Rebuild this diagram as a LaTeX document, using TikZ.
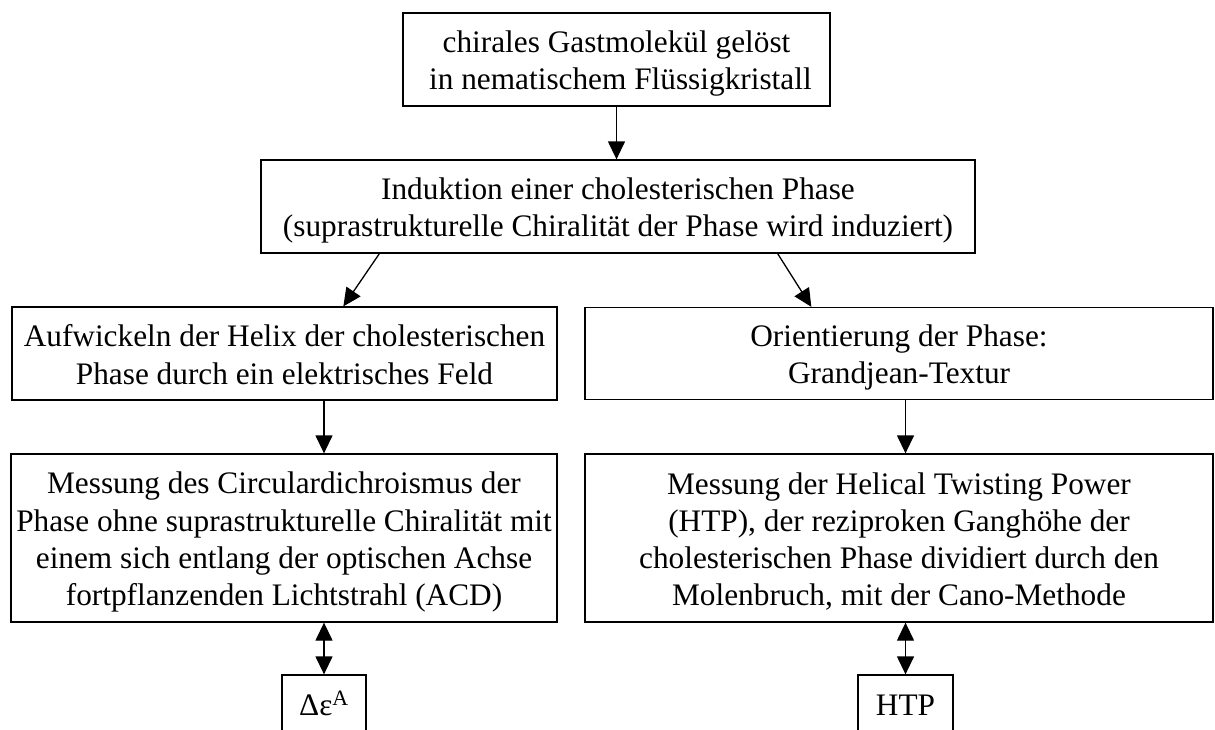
\documentclass[tikz,border=0pt]{standalone}
\usepackage{fontspec}
\setmainfont{Liberation Serif}
\usetikzlibrary{arrows.meta,calc}
\newcommand{\ls}{\rule[-6pt]{0pt}{36pt}}
\begin{document}
\begin{tikzpicture}[x=1pt,y=1pt,
  box/.style={draw, line width=1.3pt, align=center, inner sep=0pt, font=\fontsize{31.3}{37.3}\selectfont},
  arr/.style={line width=1.3pt, -{Triangle[length=18pt,width=17pt]}},
  darr/.style={line width=1.3pt, {Triangle[length=18pt,width=17pt]}-{Triangle[length=18pt,width=17pt]}}]
\useasboundingbox (0,0) rectangle (1215,-729);
\node[box, minimum width=427pt, minimum height=93pt] (top) at (616.5,-59.5)
  {\ls chirales Gastmolekül gelöst\\\ls\ in nematischem Flüssigkristall};
\node[box, minimum width=714pt, minimum height=93pt] (ind) at (618,-206.5)
  {\ls Induktion einer cholesterischen Phase\\\ls(suprastrukturelle Chiralität der Phase wird induziert)};
\node[box, minimum width=545pt, minimum height=93pt] (lh) at (284.5,-353.5)
  {\ls Aufwickeln der Helix der cholesterischen\\\ls Phase durch ein elektrisches Feld};
\node[box, minimum width=628pt, minimum height=92pt] (rh) at (899,-353.5)
  {\ls Orientierung der Phase:\\\ls Grandjean-Textur};
\node[box, minimum width=546pt, minimum height=168pt] (lm) at (284,-538)
  {\ls Messung des Circulardichroismus der\\\ls Phase ohne suprastrukturelle Chiralität mit\\\ls einem sich entlang der optischen Achse\\\ls fortpflanzenden Lichtstrahl (ACD)};
\node[box, minimum width=628pt, minimum height=168pt] (rm) at (899,-538)
  {\ls Messung der Helical Twisting Power\\\ls(HTP), der reziproken Ganghöhe der\\\ls cholesterischen Phase dividiert durch den\\\ls Molenbruch, mit der Cano-Methode};
\node[box, minimum width=84pt, minimum height=56pt] (de) at (324,-703)
  {\ls Δε\textsuperscript{A}};
\node[box, minimum width=95pt, minimum height=56pt] (htp) at (905.5,-703)
  {\ls HTP};
\draw[arr] (top.south) -- (top.south |- ind.north);
\draw[arr] ([xshift=119pt]ind.south west) -- ([xshift=332pt]lh.north west);
\draw[arr] ([xshift=-198pt]ind.south east) -- ([xshift=227pt]rh.north west);
\draw[arr] (lh.south -| de.north) -- (lm.north -| de.north);
\draw[arr] (rh.south -| htp.north) -- (rm.north -| htp.north);
\draw[darr] (lm.south -| de.north) -- (de.north);
\draw[darr] (rm.south -| htp.north) -- (htp.north);
\end{tikzpicture}
\end{document}
